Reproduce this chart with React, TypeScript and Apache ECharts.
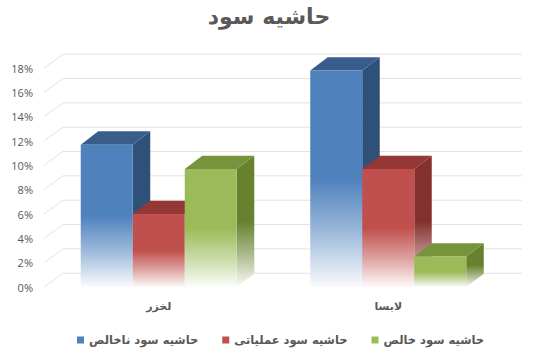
import React, { useEffect, useRef } from "react";
import * as echarts from "echarts";

const title = "حاشیه سود";
const categories = ["لخزر", "لابسا"];
const seriesNames = ["حاشیه سود ناخالص", "حاشیه سود عملیاتی", "حاشیه سود خالص"];
const grossMargin = [11.7, 17.8];
const operatingMargin = [6.0, 9.7];
const netMargin = [9.7, 2.5];
const yTicks = [0, 2, 4, 6, 8, 10, 12, 14, 16, 18];

const frontColors = ["#4F81BD", "#C0504D", "#9BBB59"];
const topColors = ["#385D8A", "#953735", "#77933C"];
const sideColors = ["#2F5079", "#83302E", "#67812F"];

const BAR_DX = 17.5;
const BAR_DY = -13.3;
const WALL_DX = 19;
const WALL_DY = -13.8;

function mixWhite(hex: string, t: number) {
  const n = parseInt(hex.slice(1), 16);
  const r = (n >> 16) & 255;
  const g = (n >> 8) & 255;
  const b = n & 255;
  const m = (c: number) => Math.round(c + (255 - c) * t);
  return `rgb(${m(r)},${m(g)},${m(b)})`;
}

function fade(c: string) {
  return new echarts.graphic.LinearGradient(0, 0, 0, 1, [
    { offset: 0, color: c },
    { offset: 0.5, color: c },
    { offset: 0.75, color: mixWhite(c, 0.45) },
    { offset: 1, color: mixWhite(c, 0.97) },
  ]);
}

export default function App() {
  const ref = useRef<HTMLDivElement>(null);
  useEffect(() => {
    if (!ref.current) return;
    const chart = echarts.init(ref.current, null, { renderer: "svg" });

    const makeBarSeries = (k: number, values: number[]) => ({
      type: "custom",
      name: seriesNames[k],
      itemStyle: { color: frontColors[k] },
      data: values.map((v, i) => [i, v]),
      z: 3 + k,
      renderItem: (params: any, api: any) => {
        const ci = api.value(0);
        const val = api.value(1);
        const top = api.coord([ci, val]);
        const base = api.coord([ci, 0]);
        const band = api.size([1, 0])[0];
        const w = band * 0.2266;
        const x0 = top[0] + (k - 1) * w - w / 2;
        const yt = top[1];
        const yb = base[1];
        return {
          type: "group",
          children: [
            {
              type: "polygon",
              shape: {
                points: [
                  [x0 + w, yt],
                  [x0 + w + BAR_DX, yt + BAR_DY],
                  [x0 + w + BAR_DX, yb + BAR_DY],
                  [x0 + w, yb],
                ],
              },
              style: { fill: fade(sideColors[k]) },
            },
            {
              type: "polygon",
              shape: {
                points: [
                  [x0, yt],
                  [x0 + w, yt],
                  [x0 + w + BAR_DX, yt + BAR_DY],
                  [x0 + BAR_DX, yt + BAR_DY],
                ],
              },
              style: { fill: topColors[k] },
            },
            {
              type: "rect",
              shape: { x: x0, y: yt, width: w, height: yb - yt },
              style: { fill: fade(frontColors[k]) },
            },
          ],
        };
      },
    });

    const option: any = {
      animation: false,
      backgroundColor: "#ffffff",
      title: {
        text: title,
        left: "center",
        top: 0,
        textStyle: {
          fontFamily: "DejaVu Sans, sans-serif",
          fontSize: 22,
          fontWeight: "bold",
          color: "#595959",
        },
      },
      grid: { left: 44, right: 35, top: 68, bottom: 65 },
      legend: {
        data: seriesNames,
        bottom: 1,
        left: 72,
        icon: "rect",
        itemWidth: 7,
        itemHeight: 7,
        itemGap: 24,
        textStyle: {
          fontFamily: "DejaVu Sans, sans-serif",
          fontSize: 11.5,
          fontWeight: "bold",
          color: "#595959",
        },
      },
      xAxis: {
        type: "category",
        data: categories,
        axisLine: { show: false },
        axisTick: { show: false },
        splitLine: { show: false },
        axisLabel: {
          margin: 14,
          fontFamily: "DejaVu Sans, sans-serif",
          fontSize: 11,
          fontWeight: "bold",
          color: "#595959",
        },
      },
      yAxis: {
        type: "value",
        min: 0,
        max: 18,
        interval: 2,
        axisLine: { show: false },
        axisTick: { show: false },
        splitLine: { show: false },
        axisLabel: {
          formatter: "{value}%",
          margin: 11,
          fontFamily: "Open Sans, sans-serif",
          fontSize: 11,
          color: "#595959",
        },
      },
      series: [
        {
          type: "custom",
          name: "_grid",
          silent: true,
          z: 1,
          data: yTicks.map((v) => [0, v]),
          renderItem: (params: any, api: any) => {
            const cs = params.coordSys;
            const y = api.coord([0, api.value(1)])[1];
            return {
              type: "polyline",
              shape: {
                points: [
                  [cs.x, y],
                  [cs.x + WALL_DX, y + WALL_DY],
                  [cs.x + cs.width + WALL_DX, y + WALL_DY],
                ],
              },
              style: { stroke: "#e2e2e2", lineWidth: 1, fill: "none" },
            };
          },
        },
        makeBarSeries(0, grossMargin),
        makeBarSeries(1, operatingMargin),
        makeBarSeries(2, netMargin),
      ],
    };
    chart.setOption(option);
    return () => chart.dispose();
  }, []);
  return (
    <div
      ref={ref}
      style={{ position: "absolute", left: 0, top: 0, width: 538, height: 352 }}
    />
  );
}
